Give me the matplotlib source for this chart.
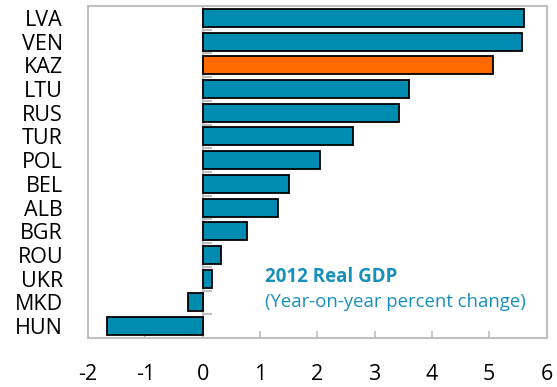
import numpy as np
import matplotlib
matplotlib.use("Agg")
import matplotlib.pyplot as plt

# 2012 real GDP growth, top to bottom as drawn
countries = ['LVA', 'VEN', 'KAZ', 'LTU', 'RUS', 'TUR', 'POL',
             'BEL', 'ALB', 'BGR', 'ROU', 'UKR', 'MKD', 'HUN']
gdp_growth = [5.6, 5.57, 5.06, 3.6, 3.42, 2.62, 2.05,
              1.5, 1.31, 0.77, 0.32, 0.16, -0.26, -1.66]
highlight = 'KAZ'
x_ticks = [-2, -1, 0, 1, 2, 3, 4, 5, 6]

TEAL = '#008BB0'
ORANGE = '#FF6A00'
GREY = '#BFBFBF'
TEXT_TEAL = '#1790BE'

plt.rcParams['font.family'] = ['Open Sans', 'DejaVu Sans']

fig = plt.figure(figsize=(5.57, 3.87), dpi=100)
ax = fig.add_axes([88/557, 1-338/387, (546.5-88)/557, 332/387])

n = len(countries)
ypos = np.arange(n)
colors = [ORANGE if c == highlight else TEAL for c in countries]
ax.barh(ypos, gdp_growth, height=0.76, color=colors,
        edgecolor='black', linewidth=1.3, zorder=3)

ax.set_ylim(n - 0.5, -0.5)
ax.set_xlim(x_ticks[0], x_ticks[-1])
ax.set_xticks(x_ticks)
ax.set_xticklabels([str(t) for t in x_ticks])
ax.set_yticks(ypos)
ax.set_yticklabels(countries)

# zero line with small category separators
ax.axvline(0, color=GREY, linewidth=1.5, zorder=2)
ax.hlines(ypos[:-1] + 0.5, 0, 0.16, color=GREY, linewidth=1.5, zorder=2)

for s in ax.spines.values():
    s.set_color(GREY)
    s.set_linewidth(1.5)

ax.tick_params(axis='x', direction='in', length=5, width=1.2, color=GREY,
               labelsize=15.5, pad=19, top=False)
ax.tick_params(axis='y', length=0, labelsize=15.5, pad=18)

ax.text(0.386, 0.185, '2012 Real GDP', transform=ax.transAxes,
        ha='left', va='center', fontsize=13.5, fontweight='bold', color=TEXT_TEAL)
ax.text(0.386, 0.108, '(Year-on-year percent change)', transform=ax.transAxes,
        ha='left', va='center', fontsize=13.3, color=TEXT_TEAL)

fig.savefig('out.png', dpi=100)
